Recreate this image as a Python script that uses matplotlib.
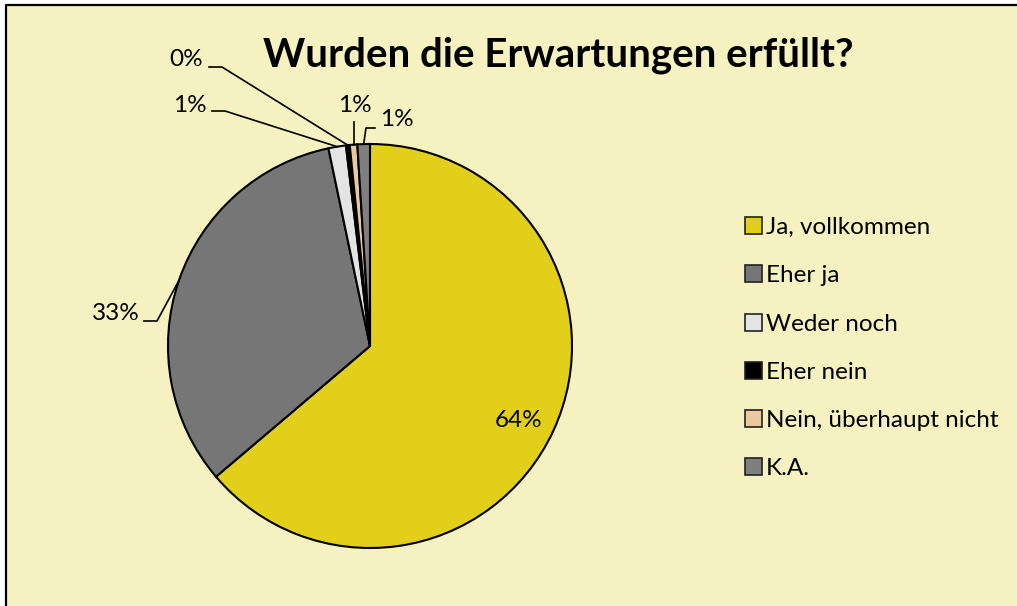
import numpy as np
import matplotlib
matplotlib.use("Agg")
import matplotlib.pyplot as plt
from matplotlib.patches import Rectangle
from matplotlib.lines import Line2D

# data
categories = ["Ja, vollkommen", "Eher ja", "Weder noch", "Eher nein",
              "Nein, überhaupt nicht", "K.A."]
values = [63.8, 32.9, 1.4, 0.3, 0.6, 1.0]
colors = ["#E2CF1A", "#767676", "#E4E4E4", "#000000", "#E8C9A0", "#7F7F7F"]
title = "Wurden die Erwartungen erfüllt?"

plt.rcParams['font.family'] = ['Lato', 'DejaVu Sans']

W, H = 1017, 606
CX, CY, R = 370, 346, 202   # pie centre / radius in pixels

def P(px, py):
    # pixel position -> data units (radius = 1)
    return ((px - CX) / R, (CY - py) / R)

fig = plt.figure(figsize=(W / 100, H / 100), dpi=100)
fig.patch.set_facecolor("#F5F1C1")
# white margin on left/top, then the chart border (right/bottom run off)
bx, by = 5.5 / W, 1 - 5 / H
fig.patches.append(Rectangle((0, 0), bx, 1, transform=fig.transFigure,
                             facecolor="white", edgecolor="none", zorder=-5))
fig.patches.append(Rectangle((0, by), 1, 1 - by, transform=fig.transFigure,
                             facecolor="white", edgecolor="none", zorder=-5))
fig.lines.append(Line2D([bx, bx, 1.01], [-0.01, by, by], transform=fig.transFigure,
                        color="black", linewidth=1.6, zorder=-4))

ax = fig.add_axes([0, 0, 1, 1])
ax.set_zorder(2)
ax.set_facecolor("none")
wedges, _ = ax.pie(values, colors=colors, startangle=90, counterclock=False,
                   wedgeprops=dict(edgecolor="black", linewidth=1.5))
ax.set_xlim(-CX / R, (W - CX) / R)
ax.set_ylim(-(H - CY) / R, CY / R)
ax.set_aspect("equal")
ax.axis("off")

pct = ["%.0f%%" % v for v in values]
lab_font = 17.5

# inside label for the big slice
mid = np.deg2rad((wedges[0].theta1 + wedges[0].theta2) / 2)
ax.text(0.81 * np.cos(mid), 0.81 * np.sin(mid) - 0.03, pct[0], ha="center",
        va="center", fontsize=lab_font)

# outside labels with leader lines: (text pos, ha, elbow, line end)
outside = {
    1: ((140, 313), "right", (157, 321), (144, 321)),
    2: ((207, 105), "right", (225, 111), (212, 111)),
    3: ((203, 60), "right", (222, 67), (209, 67)),
    4: ((355, 106), "center", None, (351, 122)),
    5: ((380, 120), "left", (366, 128), (375, 128)),
}
for i, (tp, ha, elbow, end) in outside.items():
    w = wedges[i]
    m = np.deg2rad((w.theta1 + w.theta2) / 2)
    ex, ey = np.cos(m), np.sin(m)
    if elbow is None:
        pts = [(ex, ey), (ex, P(*end)[1])]
    else:
        pts = [(ex, ey), P(*elbow), P(*end)]
    xs, ys = zip(*pts)
    ax.plot(xs, ys, color="black", linewidth=1.2, clip_on=False)
    tx, ty = P(*tp)
    ax.text(tx, ty, pct[i], ha=ha, va="center", fontsize=lab_font)

fig.text(558 / W, 1 - 55 / H, title, ha="center", va="center",
         fontsize=29, fontweight="bold")

leg = fig.legend(wedges, categories, loc="upper left",
                 bbox_to_anchor=(733 / W, 1 - 205 / H), frameon=False,
                 fontsize=17.5, handlelength=0.7, handleheight=0.7,
                 handletextpad=0.15, labelspacing=1.12, borderpad=0)
for h in leg.legend_handles:
    h.set_edgecolor("#222222")
    h.set_linewidth(1.2)

fig.savefig("out.png", dpi=100, facecolor=fig.get_facecolor())
